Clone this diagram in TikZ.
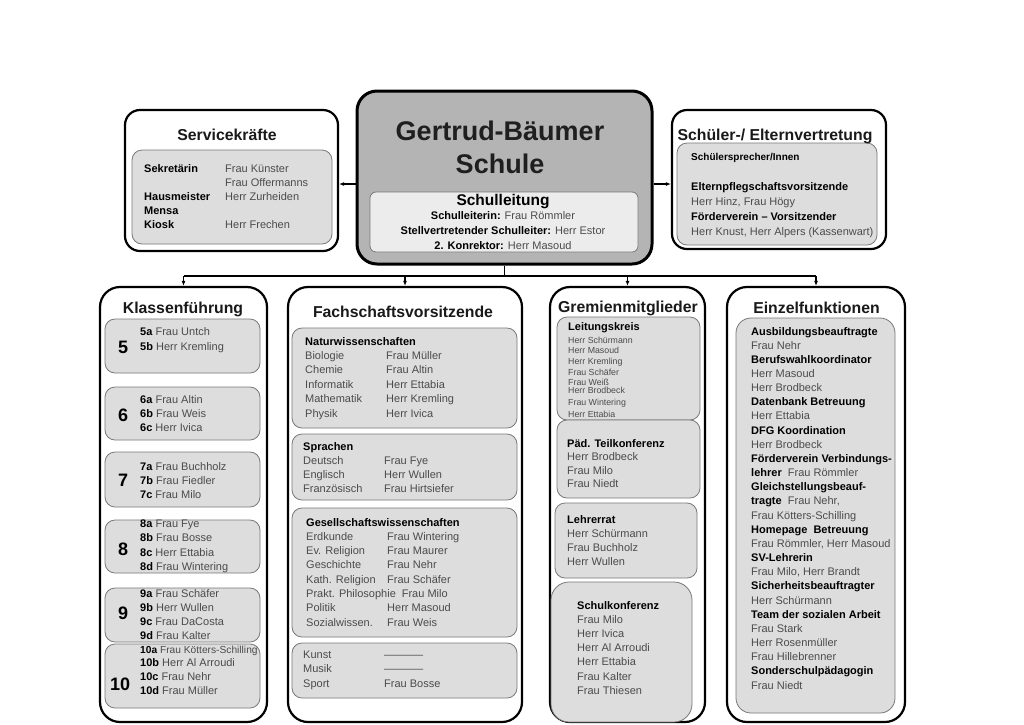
\documentclass[tikz,border=0pt]{standalone}
\usepackage{fontspec}
\setmainfont{Liberation Sans}
\usepackage{xcolor}
\usetikzlibrary{arrows.meta, positioning}
\definecolor{leitgray}{RGB}{180,180,180}
\definecolor{boxgray}{RGB}{221,221,221}
\definecolor{palegray}{RGB}{236,236,236}
\definecolor{edgegray}{RGB}{120,120,120}
\definecolor{namegray}{RGB}{75,75,75}
\newcommand{\fkt}[1]{\textcolor{black}{\textbf{#1}}}

\begin{document}
\begin{tikzpicture}[x=1pt, y=-1pt,
  outerbox/.style={draw, line width=2.2pt, fill=white, rounded corners=20pt},
  innerbox/.style={draw=edgegray, line width=0.8pt, fill=boxgray, rounded corners=10pt},
  boxtitle/.style={anchor=base, inner sep=0pt, text=black!90, font=\fontsize{15.8}{18}\selectfont\bfseries},
  txt/.style={anchor=base west, inner sep=0pt, text=namegray, font=\fontsize{11}{#1}\selectfont},
  txt/.default=14.2,
  jahrgang/.style={anchor=base west, inner sep=0pt, font=\fontsize{18}{18}\selectfont\bfseries},
  arr/.style={-{Latex[length=5pt,width=4pt]}, line width=1.2pt}]
  \fill[white] (0,0) rectangle (1024,724);
  \useasboundingbox (0,0) rectangle (1024,724);

  % Schulleitung (centre)
  \node[draw, line width=3pt, fill=leitgray, rounded corners=20pt, minimum width=295pt, minimum height=173pt] (leitung) at (504.5,177.5) {};
  \node[anchor=base, inner sep=0pt, text=black!88, font=\fontsize{27}{33}\selectfont\bfseries] (schulname) at (500,140)
    {\begin{tabular}[t]{@{}c@{}}Gertrud-Bäumer\\Schule\end{tabular}};
  \draw[draw=edgegray, line width=0.8pt, fill=palegray, rounded corners=6pt] (370,192) rectangle (638,252);
  \node[anchor=base, inner sep=0pt, font=\fontsize{15.5}{18}\selectfont\bfseries] (sl-titel) at (503,205) {Schulleitung};
  \node[anchor=base, inner sep=0pt, text=namegray, font=\fontsize{11}{15}\selectfont] (sl-namen) at (503,219)
    {\begin{tabular}[t]{@{}c@{}}
      \fkt{Schulleiterin:} Frau Römmler\\
      \fkt{Stellvertretender Schulleiter:} Herr Estor\\
      \fkt{2. Konrektor:} Herr Masoud
    \end{tabular}};

  % Servicekraefte
  \node[outerbox, rounded corners=15pt, minimum width=213pt, minimum height=141pt] (service) at (231.5,180.5) {};
  \draw[innerbox] (132,150) rectangle (332,244);
  \node[boxtitle] (service-titel) at (227,140) {Servicekräfte};
  \node[txt=14] (service-text) at (144,172)
    {\begin{tabular}[t]{@{}p{81pt}@{}l@{}}
      \fkt{Sekretärin} & Frau Künster\\
                       & Frau Offermanns\\
      \fkt{Hausmeister} & Herr Zurheiden\\
      \fkt{Mensa} & \\
      \fkt{Kiosk} & Herr Frechen
    \end{tabular}};

  % Schueler-/ Elternvertretung
  \node[outerbox, rounded corners=15pt, minimum width=214pt, minimum height=139pt] (eltern) at (779,179.5) {};
  \draw[innerbox] (677,143) rectangle (877,245);
  \node[boxtitle] (eltern-titel) at (775,140) {Schüler-/ Elternvertretung};
  \node[txt, font=\fontsize{10}{12}\selectfont] (sprecher) at (691,160) {\fkt{Schülersprecher/Innen}};
  \node[txt=15] (eltern-text) at (691,190)
    {\begin{tabular}[t]{@{}l@{}}
      \fkt{Elternpflegschaftsvorsitzende}\\
      Herr Hinz, Frau Högy\\
      \fkt{Förderverein – Vorsitzender}\\
      Herr Knust, Herr Alpers (Kassenwart)
    \end{tabular}};

  \draw[arr] ([yshift=-6.5pt]leitung.west) -- ([yshift=-6.5pt]leitung.west -| service.east);
  \draw[arr] ([yshift=-6.5pt]leitung.east) -- ([yshift=-6.5pt]leitung.east -| eltern.west);

  % lower row
  \node[outerbox, minimum width=167pt, minimum height=435pt] (klassen) at (183.5,504.5) {};
  \node[outerbox, minimum width=234pt, minimum height=435pt] (fach) at (405,504.5) {};
  \node[outerbox, minimum width=155pt, minimum height=435pt] (gremien) at (627.5,504.5) {};
  \node[outerbox, minimum width=178pt, minimum height=435pt] (einzel) at (816,504.5) {};

  \coordinate (verteiler) at (504.5,276);
  \draw[line width=1.2pt] (leitung.south) -- (verteiler);
  \draw[line width=1.2pt] (klassen.north |- verteiler) -- (einzel.north |- verteiler);
  \foreach \ziel in {klassen, fach, gremien, einzel}
    \draw[arr] (\ziel.north |- verteiler) -- (\ziel.north);

  % Klassenfuehrung
  \node[boxtitle] (klassen-titel) at (183,313) {Klassenführung};
  \foreach \oben/\unten in {319/373, 387/440, 452/507, 520/573, 588/642, 644/708}
    \draw[innerbox] (105,\oben) rectangle (260,\unten);
  \node[jahrgang] (j5) at (118,353) {5};
  \node[jahrgang] (j6) at (118,421) {6};
  \node[jahrgang] (j7) at (118,486) {7};
  \node[jahrgang] (j8) at (118,555) {8};
  \node[jahrgang] (j9) at (118,619) {9};
  \node[jahrgang] (j10) at (110,690) {10};
  \node[txt=15] (k5) at (140,335)
    {\begin{tabular}[t]{@{}l@{}}\fkt{5a} Frau Untch\\ \fkt{5b} Herr Kremling\end{tabular}};
  \node[txt=14] (k6) at (140,403)
    {\begin{tabular}[t]{@{}l@{}}\fkt{6a} Frau Altin\\ \fkt{6b} Frau Weis\\ \fkt{6c} Herr Ivica\end{tabular}};
  \node[txt=14] (k7) at (140,470)
    {\begin{tabular}[t]{@{}l@{}}\fkt{7a} Frau Buchholz\\ \fkt{7b} Frau Fiedler\\ \fkt{7c} Frau Milo\end{tabular}};
  \node[txt=14.6] (k8) at (140,527)
    {\begin{tabular}[t]{@{}l@{}}\fkt{8a} Frau Fye\\ \fkt{8b} Frau Bosse\\ \fkt{8c} Herr Ettabia\\ \fkt{8d} Frau Wintering\end{tabular}};
  \node[txt=14] (k9) at (140,597)
    {\begin{tabular}[t]{@{}l@{}}\fkt{9a} Frau Schäfer\\ \fkt{9b} Herr Wullen\\ \fkt{9c} Frau DaCosta\\ \fkt{9d} Frau Kalter\end{tabular}};
  \node[txt=13.7] (k10) at (140,653)
    {\begin{tabular}[t]{@{}l@{}}{\fontsize{10.2}{13.7}\selectfont\fkt{10a} Frau Kötters-Schilling}\\ \fkt{10b} Herr Al Arroudi\\ \fkt{10c} Frau Nehr\\ \fkt{10d} Frau Müller\end{tabular}};

  % Fachschaftsvorsitzende
  \node[boxtitle] (fach-titel) at (403,317) {Fachschaftsvorsitzende};
  \draw[innerbox] (292,328) rectangle (517,428);
  \draw[innerbox] (292,434) rectangle (517,500);
  \draw[innerbox] (292,508) rectangle (517,637);
  \draw[innerbox] (292,643) rectangle (517,698);
  \node[txt=14.4] (natur) at (305,345)
    {\begin{tabular}[t]{@{}p{81pt}@{}l@{}}
      \multicolumn{2}{@{}l@{}}{\fkt{Naturwissenschaften}}\\
      Biologie & Frau Müller\\
      Chemie & Frau Altin\\
      Informatik & Herr Ettabia\\
      Mathematik & Herr Kremling\\
      Physik & Herr Ivica
    \end{tabular}};
  \node[txt=14.3] (sprachen) at (303,450)
    {\begin{tabular}[t]{@{}p{81pt}@{}l@{}}
      \multicolumn{2}{@{}l@{}}{\fkt{Sprachen}}\\
      Deutsch & Frau Fye\\
      Englisch & Herr Wullen\\
      Französisch & Frau Hirtsiefer
    \end{tabular}};
  \node[txt=14.3] (gesellschaft) at (306,526)
    {\begin{tabular}[t]{@{}p{81pt}@{}l@{}}
      \multicolumn{2}{@{}l@{}}{\fkt{Gesellschaftswissenschaften}}\\
      Erdkunde & Frau Wintering\\
      Ev. Religion & Frau Maurer\\
      Geschichte & Frau Nehr\\
      Kath. Religion & Frau Schäfer\\
      \multicolumn{2}{@{}l@{}}{Prakt. Philosophie\hspace{6pt}Frau Milo}\\
      Politik & Herr Masoud\\
      Sozialwissen. & Frau Weis
    \end{tabular}};
  \node[txt=14.5] (kunst) at (303,658)
    {\begin{tabular}[t]{@{}p{81pt}@{}l@{}}
      Kunst & -----------\\
      Musik & -----------\\
      Sport & Frau Bosse
    \end{tabular}};

  % Gremienmitglieder
  \node[boxtitle] (gremien-titel) at (628,312) {Gremienmitglieder};
  \draw[innerbox] (557,317) rectangle (700,420);
  \draw[innerbox] (557,420) rectangle (700,498);
  \draw[innerbox] (555,503) rectangle (697,578);
  \draw[innerbox, rounded corners=18pt] (551,582) rectangle (692,722);
  \node[txt] (leitkreis) at (568,330) {\fkt{Leitungskreis}};
  \node[txt, font=\fontsize{8.8}{10.7}\selectfont] (leitkreis-a) at (568,343)
    {\begin{tabular}[t]{@{}l@{}}Herr Schürmann\\ Herr Masoud\\ Herr Kremling\\ Frau Schäfer\\ Frau Weiß\end{tabular}};
  \node[txt, font=\fontsize{8.8}{12}\selectfont] (leitkreis-b) at (568,393)
    {\begin{tabular}[t]{@{}l@{}}Herr Brodbeck\\ Frau Wintering\\ Herr Ettabia\end{tabular}};
  \node[txt=13.5] (paed) at (567,447)
    {\begin{tabular}[t]{@{}l@{}}\fkt{Päd. Teilkonferenz}\\ Herr Brodbeck\\ Frau Milo\\ Frau Niedt\end{tabular}};
  \node[txt=14] (lehrerrat) at (567,523)
    {\begin{tabular}[t]{@{}l@{}}\fkt{Lehrerrat}\\ Herr Schürmann\\ Frau Buchholz\\ Herr Wullen\end{tabular}};
  \node[txt=14.2] (schulkonf) at (577,609)
    {\begin{tabular}[t]{@{}l@{}}\fkt{Schulkonferenz}\\ Frau Milo\\ Herr Ivica\\ Herr Al Arroudi\\ Herr Ettabia\\ Frau Kalter\\ Frau Thiesen\end{tabular}};

  % Einzelfunktionen
  \draw[innerbox, rounded corners=15pt] (736,318) rectangle (895,713);
  \node[boxtitle] (einzel-titel) at (816.5,313) {Einzelfunktionen};
  \node[txt=14.16] (einzel-text) at (751,335)
    {\begin{tabular}[t]{@{}l@{}}
      \fkt{Ausbildungsbeauftragte}\\
      Frau Nehr\\
      \fkt{Berufswahlkoordinator}\\
      Herr Masoud\\
      Herr Brodbeck\\
      \fkt{Datenbank Betreuung}\\
      Herr Ettabia\\
      \fkt{DFG Koordination}\\
      Herr Brodbeck\\
      \fkt{Förderverein Verbindungs-}\\
      \fkt{lehrer}\ \ Frau Römmler\\
      \fkt{Gleichstellungsbeauf-}\\
      \fkt{tragte}\ \ Frau Nehr,\\
      Frau Kötters-Schilling\\
      \fkt{Homepage\ \ Betreuung}\\
      Frau Römmler, Herr Masoud\\
      \fkt{SV-Lehrerin}\\
      Frau Milo, Herr Brandt\\
      \fkt{Sicherheitsbeauftragter}\\
      Herr Schürmann\\
      \fkt{Team der sozialen Arbeit}\\
      Frau Stark\\
      Herr Rosenmüller\\
      Frau Hillebrenner\\
      \fkt{Sonderschulpädagogin}\\
      Frau Niedt
    \end{tabular}};
\end{tikzpicture}
\end{document}
